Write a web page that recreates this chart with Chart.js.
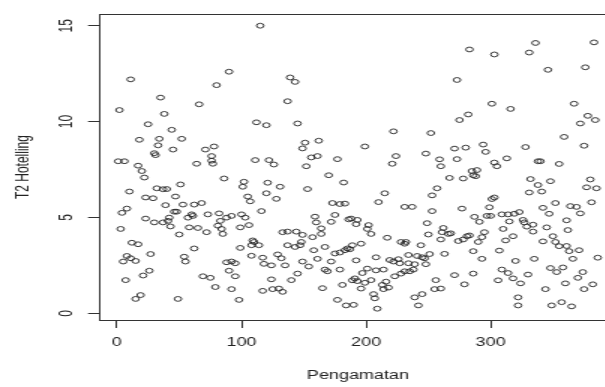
<!DOCTYPE html>
<html>
<head>
<meta charset="utf-8">
<script src="https://cdn.jsdelivr.net/npm/chart.js@4.4.1/dist/chart.umd.min.js"></script>
<style>
html,body{margin:0;padding:0;background:#fff;overflow:hidden}
</style>
</head>
<body>
<!-- the source picture is stretched sideways, so the canvas is drawn narrow and stretched -->
<canvas id="c" width="420" height="387" style="width:630px;height:387px;display:block"></canvas>
<script>
var obsIdx = [
  11,80,35,66,2,38,25,44,18,34, 52,33,45,30,31,71,78,76,76,77, 1,6,17,64,
  115,90,139,143,137,112,120,145,151,149, 162,111,122,126,156,161,177,152,
  283,273,282,275,222,252,199,224,221,248, 259,271,280,273,260,
  303,336,331,383,346,376,301,316,367,378, 384,372,359,294,296,328,375,313,303,305, 338,340,355,
  20,22,10,32,37,40,51,23,29,47, 39,53,62,68,8,4,48,46,60,61,
  57,73,82,23,30,37,41,42,43,58, 65,72,81,84,85,3,50,12,17,62,
  27,8,11,5,15,54,55,26,21,69, 75,7,79,19,15,49,
  86,102,101,121,131,120,128,153,170,182, 105,107,116,88,92,83,100,103,99,106,
  109,110,108,114,99,108,117,129,132,88, 92,95,90,95,118,124,135,124,92,98,
  117,125,130,133,140,145,133,137,144,149, 137,143,147,148,149,154,161,158,167,157,
  164,164,160,159,172,175,173,179,186,175, 179,183,185,172,179,167,169,181,165,177, 184,
  267,278,285,286,257,253,215,210,231,237, 183,253,277,188,193,192,202,201,204,249,
  250,262,268,266,261,260,274,278,281,217, 228,231,232,244,196,187,189,208,192,234,
  241,245,247,251,263,219,226,222,227,234, 239,248,201,208,214,197,223,228,231,235,
  238,191,193,189,199,204,213,216,218,214, 196,271,256,255,260,279,286,206,207,239,
  245,242,190,209,
  289,288,332,338,348,341,331,380,377,385, 381,303,301,299,352,342,347,364,369,372,
  287,291,297,300,309,314,319,323,315,326, 327,334,329,334,345,361,362,283,295,293,
  290,286,310,312,318,307,342,350,352,355, 361,363,371,366,293,320,335,386,309,314,
  318,306,324,330,348,353,358,374,370,344, 360,375,382,322,322,349,357,365
];
var t2Val = [
  12.2,11.9,11.25,10.9,10.6,10.4,9.86,9.57,9.05,9.1, 9.1,8.76,8.54,8.35,8.25,8.54,8.7,8.2,7.96,7.8, 7.93,7.93,7.7,7.8,
  15.0,12.6,12.3,12.07,11.06,9.96,9.81,9.9,8.9,8.6, 9.0,7.99,7.99,7.76,8.13,8.2,8.04,7.67,
  13.76,12.17,10.37,10.08,9.49,9.4,8.7,8.2,7.8,8.33, 8.03,8.59,8.64,8.04,7.67,
  13.5,14.1,13.6,14.13,12.7,12.83,10.93,10.66,10.93,10.3, 10.08,9.9,9.2,8.8,8.42,8.67,8.74,8.08,7.86,7.67, 7.93,7.93,7.79,
  7.42,7.08,6.35,6.52,6.47,6.48,6.72,6.04,6.0,6.09, 5.64,5.67,5.67,5.75,5.46,5.24,5.3,5.3,5.16,5.08,
  4.99,5.16,5.21,4.94,4.74,4.74,4.82,4.99,4.53,4.48, 4.45,4.23,4.57,4.4,4.14,4.4,4.11,3.68,3.6,3.38,
  3.09,2.99,2.87,2.7,2.73,2.95,2.7,2.22,1.97,1.93, 1.85,1.73,1.37,0.95,0.75,0.75,
  7.03,6.86,6.6,6.81,6.6,6.26,5.97,6.48,7.2,6.82, 6.09,5.84,5.33,4.99,5.08,4.82,5.16,4.99,4.48,4.6,
  3.8,3.72,3.55,3.55,3.41,3.0,2.9,3.07,2.87,2.66, 2.7,2.61,2.22,1.93,2.58,2.5,2.5,1.77,1.26,0.7,
  1.17,1.26,1.29,1.12,1.73,2.07,4.23,4.26,4.26,4.09, 3.55,3.46,3.55,3.72,2.7,2.44,2.84,3.29,3.46,3.97,
  4.14,4.43,4.74,5.04,4.77,5.13,5.75,5.7,4.9,3.12, 3.17,3.29,3.38,2.7,2.28,2.28,2.19,1.48,1.31,0.7, 0.41,
  7.06,7.03,7.42,7.2,6.52,6.15,6.26,5.8,5.55,5.55, 5.72,5.33,5.46,4.94,4.87,4.65,4.6,4.4,4.14,4.7,
  4.11,4.45,4.17,4.14,4.23,3.85,3.77,3.85,4.02,3.94, 3.72,3.63,3.72,3.55,3.63,3.34,3.55,2.92,2.76,3.04,
  2.99,2.92,2.87,3.09,3.1,2.78,2.82,2.7,2.61,2.61, 2.56,2.56,2.33,2.24,2.28,2.1,1.93,2.07,2.19,2.19,
  2.28,1.82,1.68,1.72,1.59,1.73,1.48,1.65,1.34,1.26, 1.29,1.99,1.73,1.26,1.29,1.51,2.07,1.0,0.78,0.83,
  1.0,0.41,0.44,0.24,
  7.47,7.15,7.0,6.69,6.89,6.35,6.3,6.98,6.57,6.52, 5.79,6.04,5.96,5.53,5.75,5.5,5.19,5.59,5.55,5.21,
  5.03,4.77,5.08,5.08,5.16,5.16,5.19,5.28,4.79,4.87, 4.74,4.62,4.52,4.26,4.48,4.85,4.34,4.06,4.23,3.97,
  3.72,3.24,4.4,3.8,4.02,3.27,3.75,4.02,3.72,3.5, 3.51,3.24,3.29,2.84,2.84,2.73,2.84,2.9,2.28,2.1,
  1.82,1.72,1.56,2.02,2.36,2.15,2.39,2.15,1.85,1.26, 1.56,1.26,1.51,0.83,0.41,0.41,0.58,0.36
];
var xTicks = [0,100,200,300];
var yTicks = [0,5,10,15];
var xTitle = 'Pengamatan';
var yTitle = 'T2 Hotelling';

var pts = obsIdx.map(function(x,i){return {x:x,y:t2Val[i]}});
var FONT = {family:"'Liberation Sans', Arial, sans-serif", size:12};
var INK = '#222';

// R-style frame round the plotting region
var boxPlugin = {
  id:'box',
  afterDraw:function(ch){
    var a=ch.chartArea,ctx=ch.ctx;
    ctx.save();ctx.strokeStyle='#333';ctx.lineWidth=1;
    ctx.strokeRect(Math.round(a.left)+0.5,Math.round(a.top)+0.5,Math.round(a.right-a.left),Math.round(a.bottom-a.top));
    ctx.restore();
  }
};

new Chart(document.getElementById('c'),{
  type:'scatter',
  data:{datasets:[{data:pts,pointRadius:2.4,pointHoverRadius:2.4,pointBorderWidth:0.9,borderColor:INK,backgroundColor:'rgba(0,0,0,0)'}]},
  options:{
    responsive:false,devicePixelRatio:1,animation:false,
    layout:{padding:{left:0,right:8.7,top:7,bottom:0}},
    plugins:{legend:{display:false},tooltip:{enabled:false}},
    scales:{
      x:{
        min:-14.4,max:401.4,
        afterBuildTicks:function(s){s.ticks=xTicks.map(function(v){return{value:v}})},
        afterFit:function(s){s.height=67},
        grid:{drawOnChartArea:false,drawTicks:true,tickLength:8,tickColor:'#333'},
        border:{display:false},
        ticks:{color:INK,font:FONT,padding:7,maxRotation:0,autoSkip:false},
        title:{display:true,text:xTitle,color:INK,font:FONT,padding:{top:0,bottom:4}}
      },
      y:{
        min:-0.35,max:15.6,
        afterBuildTicks:function(s){s.ticks=yTicks.map(function(v){return{value:v}})},
        afterFit:function(s){s.width=66},
        grid:{drawOnChartArea:false,drawTicks:true,tickLength:7.3,tickColor:'#333'},
        border:{display:false},
        ticks:{color:INK,font:FONT,padding:7,minRotation:90,maxRotation:90,crossAlign:'center',autoSkip:false},
        title:{display:true,text:yTitle,color:INK,font:FONT,padding:{top:8,bottom:0}}
      }
    }
  },
  plugins:[boxPlugin]
});
</script>
</body>
</html>
